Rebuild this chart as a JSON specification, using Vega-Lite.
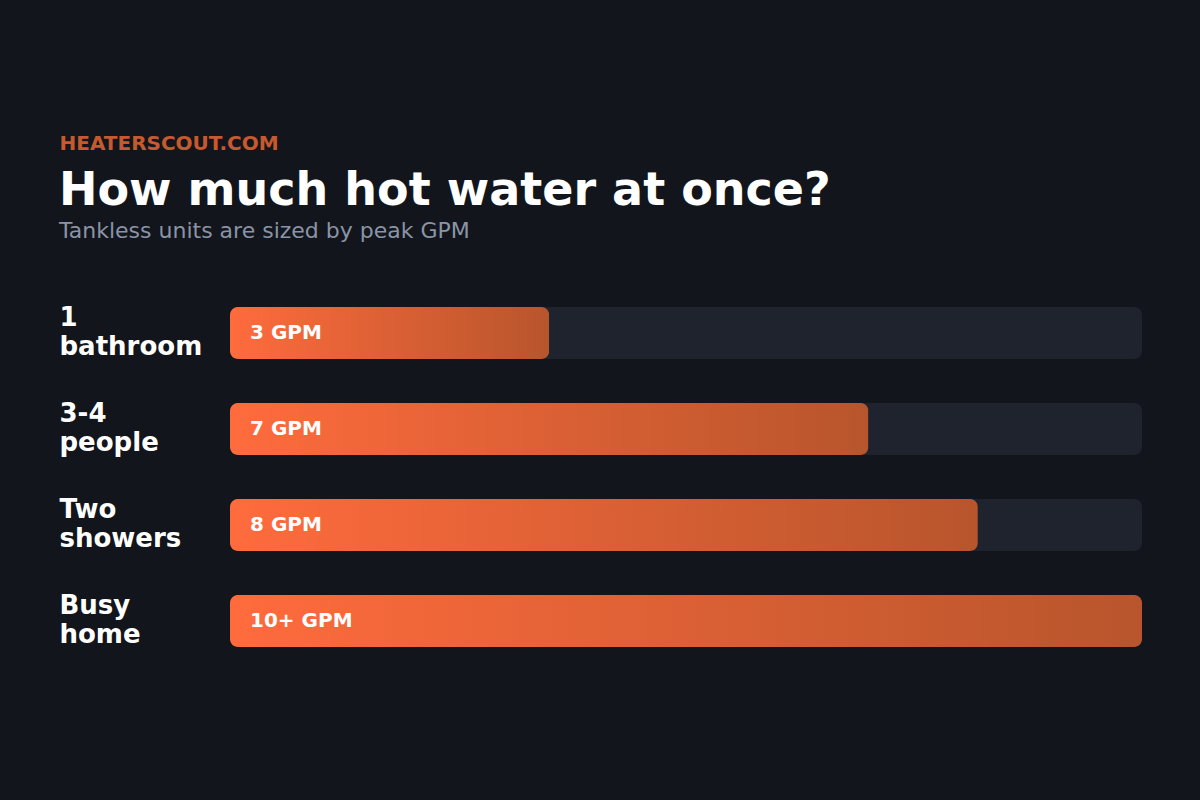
{
  "$schema": "https://vega.github.io/schema/vega-lite/v6.json",
  "width": 912,
  "height": 384,
  "autosize": {"type": "none"},
  "padding": {"left": 230, "top": 285, "right": 58, "bottom": 131},
  "background": "#12151b",
  "title": {
    "text": "How much hot water at once?",
    "subtitle": "Tankless units are sized by peak GPM",
    "anchor": "start",
    "frame": "group",
    "dx": -171,
    "dy": 150,
    "offset": 40,
    "font": "DejaVu Sans",
    "fontSize": 46,
    "fontWeight": "bold",
    "color": "#ffffff",
    "subtitleFont": "DejaVu Sans",
    "subtitleFontSize": 22,
    "subtitleFontWeight": "normal",
    "subtitleColor": "#8a94a6",
    "subtitlePadding": 6
  },
  "config": {
    "view": {"stroke": null},
    "font": "DejaVu Sans"
  },
  "data": {
    "values": [
      {"group": "1 bathroom", "share": 35, "label": "3 GPM"},
      {"group": "3-4 people", "share": 70, "label": "7 GPM"},
      {"group": "Two showers", "share": 82, "label": "8 GPM"},
      {"group": "Busy home", "share": 100, "label": "10+ GPM"}
    ]
  },
  "encoding": {
    "y": {
      "field": "group",
      "type": "nominal",
      "sort": null,
      "scale": {"paddingInner": 0.458, "paddingOuter": 0.229},
      "axis": {
        "title": "HEATERSCOUT.COM",
        "titleAngle": 0,
        "titleAlign": "left",
        "titleBaseline": "alphabetic",
        "titleX": -171,
        "titleY": -136,
        "titleColor": "#c65a2e",
        "titleFont": "DejaVu Sans",
        "titleFontSize": 20,
        "titleFontWeight": "bold",
        "domain": false,
        "ticks": false,
        "tickSize": 0,
        "grid": false,
        "labelExpr": "split(datum.label, ' ')",
        "labelAlign": "left",
        "labelBaseline": "middle",
        "labelPadding": 171,
        "labelOffset": -15,
        "labelLimit": 0,
        "labelFont": "DejaVu Sans",
        "labelFontSize": 26,
        "labelFontWeight": "bold",
        "labelColor": "#ffffff",
        "labelLineHeight": 29
      }
    }
  },
  "layer": [
    {
      "mark": {"type": "bar", "color": "#1f232d", "cornerRadius": 8},
      "encoding": {
        "x": {"datum": 100, "type": "quantitative", "scale": {"domain": [0, 100], "nice": false}, "axis": null}
      }
    },
    {
      "mark": {
        "type": "bar",
        "cornerRadius": 8,
        "color": {
          "gradient": "linear",
          "x1": 0, "y1": 0, "x2": 1, "y2": 0,
          "stops": [
            {"offset": 0, "color": "#ff6b3d"},
            {"offset": 1, "color": "#b8552c"}
          ]
        }
      },
      "encoding": {
        "x": {"field": "share", "type": "quantitative", "scale": {"domain": [0, 100], "nice": false}, "axis": null}
      }
    },
    {
      "mark": {
        "type": "text",
        "align": "left",
        "baseline": "middle",
        "dx": 20,
        "font": "DejaVu Sans",
        "fontSize": 20,
        "fontWeight": "bold",
        "color": "#ffffff"
      },
      "encoding": {
        "x": {"datum": 0, "type": "quantitative", "scale": {"domain": [0, 100], "nice": false}, "axis": null},
        "text": {"field": "label"}
      }
    }
  ]
}
